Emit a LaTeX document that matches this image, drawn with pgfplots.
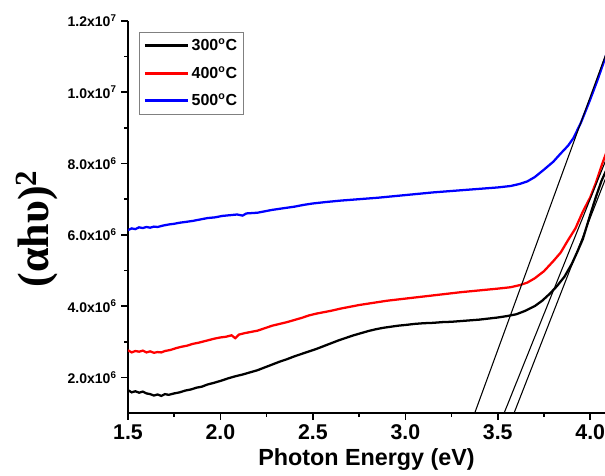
\documentclass[border=0pt]{standalone}
\usepackage{pgfplots}
\pgfplotsset{compat=1.18}
\usepackage{fontspec}
\setmainfont{Liberation Sans}
\newfontfamily\seriffont{Liberation Serif}

\pgfplotstableread{
x y
1.50 1.64e6
1.52 1.58e6
1.54 1.61e6
1.56 1.57e6
1.58 1.60e6
1.60 1.55e6
1.62 1.53e6
1.64 1.49e6
1.66 1.52e6
1.68 1.48e6
1.70 1.53e6
1.72 1.51e6
1.75 1.55e6
1.78 1.58e6
1.81 1.63e6
1.84 1.66e6
1.87 1.71e6
1.90 1.74e6
1.93 1.80e6
1.96 1.84e6
2.00 1.90e6
2.04 1.97e6
2.08 2.03e6
2.12 2.08e6
2.16 2.14e6
2.20 2.20e6
2.24 2.28e6
2.28 2.36e6
2.32 2.44e6
2.36 2.51e6
2.40 2.59e6
2.44 2.66e6
2.48 2.73e6
2.52 2.80e6
2.56 2.88e6
2.60 2.96e6
2.64 3.04e6
2.68 3.11e6
2.72 3.18e6
2.76 3.24e6
2.80 3.30e6
2.84 3.35e6
2.88 3.39e6
2.92 3.42e6
2.96 3.45e6
3.00 3.47e6
3.05 3.50e6
3.10 3.52e6
3.15 3.53e6
3.20 3.55e6
3.25 3.56e6
3.30 3.58e6
3.35 3.60e6
3.40 3.62e6
3.45 3.65e6
3.50 3.68e6
3.55 3.72e6
3.60 3.77e6
3.65 3.87e6
3.70 4.00e6
3.74 4.15e6
3.78 4.34e6
3.82 4.56e6
3.86 4.82e6
3.90 5.18e6
3.93 5.52e6
3.96 5.88e6
4.00 6.56e6
4.03 7.05e6
4.06 7.50e6
4.09 7.85e6
}\tblA

\pgfplotstableread{
x y
1.50 2.76e6
1.52 2.70e6
1.54 2.74e6
1.56 2.72e6
1.58 2.75e6
1.60 2.70e6
1.62 2.73e6
1.64 2.69e6
1.66 2.71e6
1.68 2.70e6
1.70 2.74e6
1.73 2.77e6
1.76 2.82e6
1.79 2.86e6
1.82 2.89e6
1.85 2.94e6
1.88 2.97e6
1.91 3.01e6
1.94 3.05e6
1.97 3.09e6
2.00 3.12e6
2.03 3.14e6
2.06 3.18e6
2.08 3.10e6
2.10 3.20e6
2.13 3.24e6
2.16 3.27e6
2.20 3.31e6
2.24 3.38e6
2.28 3.45e6
2.32 3.50e6
2.36 3.55e6
2.40 3.61e6
2.44 3.67e6
2.48 3.74e6
2.52 3.79e6
2.56 3.83e6
2.60 3.87e6
2.65 3.93e6
2.70 3.98e6
2.75 4.03e6
2.80 4.07e6
2.85 4.11e6
2.90 4.15e6
2.95 4.18e6
3.00 4.21e6
3.10 4.27e6
3.20 4.33e6
3.30 4.39e6
3.40 4.44e6
3.50 4.49e6
3.57 4.53e6
3.62 4.59e6
3.66 4.66e6
3.70 4.78e6
3.75 4.98e6
3.80 5.26e6
3.84 5.50e6
3.88 5.85e6
3.92 6.18e6
3.96 6.65e6
4.00 7.05e6
4.03 7.45e6
4.06 7.92e6
4.09 8.35e6
}\tblB

\pgfplotstableread{
x y
1.50 6.13e6
1.52 6.18e6
1.54 6.16e6
1.56 6.21e6
1.58 6.19e6
1.60 6.22e6
1.62 6.20e6
1.64 6.23e6
1.66 6.22e6
1.69 6.26e6
1.72 6.29e6
1.75 6.31e6
1.78 6.34e6
1.81 6.36e6
1.85 6.39e6
1.89 6.43e6
1.93 6.47e6
1.97 6.49e6
2.01 6.53e6
2.05 6.55e6
2.09 6.57e6
2.12 6.54e6
2.14 6.60e6
2.17 6.61e6
2.20 6.62e6
2.24 6.66e6
2.28 6.70e6
2.32 6.73e6
2.36 6.76e6
2.40 6.79e6
2.45 6.84e6
2.50 6.88e6
2.57 6.92e6
2.65 6.96e6
2.75 7.00e6
2.85 7.04e6
2.95 7.09e6
3.05 7.14e6
3.15 7.19e6
3.20 7.21e6
3.30 7.25e6
3.40 7.29e6
3.50 7.33e6
3.57 7.37e6
3.62 7.43e6
3.66 7.50e6
3.70 7.62e6
3.75 7.83e6
3.80 8.05e6
3.84 8.28e6
3.88 8.50e6
3.91 8.72e6
3.95 9.15e6
4.00 9.80e6
4.04 10.35e6
4.09 11.10e6
}\tblC

\begin{document}
\begin{tikzpicture}
\begin{axis}[
  scale only axis,
  width=357.75pt, height=294pt,
  xmin=1.5, xmax=4.08,
  ymin=1e6, ymax=1.2e7,
  axis lines=left,
  axis line style={-, line width=1.5pt},
  tick align=outside,
  major tick length=5pt,
  minor tick length=2.7pt,
  every tick/.style={black, line width=1.2pt},
  xtick={1.5,2.0,2.5,3.0,3.5,4.0},
  xticklabels={1.5,2.0,2.5,3.0,3.5,4.0},
  minor x tick num=1,
  ytick={2e6,4e6,6e6,8e6,1e7,1.2e7},
  yticklabels={2.0x10\textsuperscript{6},4.0x10\textsuperscript{6},6.0x10\textsuperscript{6},8.0x10\textsuperscript{6},1.0x10\textsuperscript{7},1.2x10\textsuperscript{7}},
  minor y tick num=1,
  scaled y ticks=false,
  /pgf/number format/assume math mode=true,
  xticklabel style={font=\bfseries\fontsize{16}{16}\selectfont},
  yticklabel style={font=\bfseries\fontsize{10.5}{12}\selectfont},
  xlabel={\bfseries Photon Energy (eV)},
  xlabel style={font=\fontsize{17.5}{18}\selectfont, at={(axis description cs:0.5,0)}, anchor=base, yshift=-39pt},
  ylabel={\seriffont\bfseries (αhυ)\textsuperscript{2}},
  ylabel style={font=\fontsize{33}{33}\selectfont, at={(axis description cs:-0.19,0.47)}, anchor=center, rotate=0},
  legend style={at={(axis description cs:0.023,0.972)}, anchor=north west, draw=gray, line width=0.6pt,
    font=\bfseries\fontsize{12}{13}\selectfont, row sep=6.5pt, inner sep=3pt},
  legend cell align=left,
  legend image code/.code={\draw[#1, line width=2.2pt] (0pt,0pt) -- (32pt,0pt);},
  clip=true,
]
\addplot[black, line width=1.7pt] table[x=x,y=y] {\tblA};
\addplot[red, line width=1.7pt] table[x=x,y=y] {\tblB};
\addplot[blue, line width=1.7pt] table[x=x,y=y] {\tblC};
\legend{300\textsuperscript{o}C, 400\textsuperscript{o}C, 500\textsuperscript{o}C}
\addplot[black, line width=0.8pt, forget plot] coordinates {(3.305,0) (4.15,12.0e6)};
\addplot[black, line width=0.8pt, forget plot] coordinates {(3.457,0) (4.15,8.94e6)};
\addplot[black, line width=0.8pt, forget plot] coordinates {(3.513,0) (4.15,8.47e6)};
\coordinate (bl) at (rel axis cs:0,0);
\coordinate (tr) at (rel axis cs:1,1);
\end{axis}
\pgfresetboundingbox
\useasboundingbox ([shift={(-96pt,-46.5pt)}]bl) rectangle ([shift={(0pt,15.75pt)}]tr);
\end{tikzpicture}
\end{document}
